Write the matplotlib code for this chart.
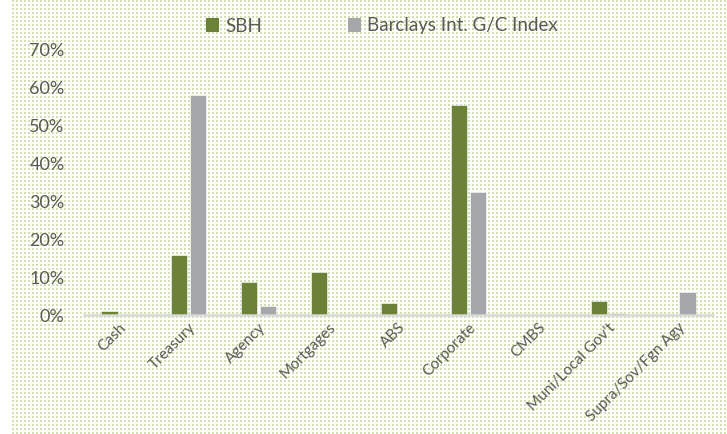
import numpy as np
import matplotlib
matplotlib.use("Agg")
import matplotlib.pyplot as plt
from matplotlib.patches import Patch
from matplotlib.ticker import PercentFormatter

# sector weights, percent
categories = ["Cash", "Treasury", "Agency", "Mortgages", "ABS", "Corporate",
              "CMBS", "Muni/Local Gov't", "Supra/Sov/Fgn Agy"]
sbh = [1.0, 15.8, 8.8, 11.4, 3.1, 55.3, 0.0, 3.8, 0.0]
barclays = [0.0, 57.9, 2.5, 0.0, 0.0, 32.3, 0.0, 0.4, 6.1]
series_names = ["SBH", "Barclays Int. G/C Index"]

GREEN = "#6b8238"
GREY = "#a5a8ab"
TEXT = "#595959"
DOT = "#d0e0b3"

W, H, DPI = 727, 434, 100
plt.rcParams['font.family'] = ['Lato', 'DejaVu Sans']

fig = plt.figure(figsize=(W / DPI, H / DPI), dpi=DPI)
fig.patch.set_facecolor("white")

# dotted excel-style fill behind the whole chart
bg = np.ones((H, W, 4))
dot = np.array(matplotlib.colors.to_rgba(DOT))
yy, xx = np.mgrid[0:H, 0:W]
mask = (xx % 4 < 2) & (yy % 4 < 2) & (xx >= 10)
bg[mask] = dot
fig.figimage(bg, xo=0, yo=0, origin="upper", zorder=-1)

ax = fig.add_axes([84 / W, 1 - 315 / H, (713 - 84) / W, (315 - 49) / H])
ax.patch.set_visible(False)

x = np.arange(len(categories))
bw = 0.23
off = 0.135
ax.bar(x - off, sbh, bw, color=GREEN, edgecolor="white", linewidth=0.4, zorder=2)
ax.bar(x + off, barclays, bw, color=GREY, edgecolor="white", linewidth=0.4, zorder=2)

ax.set_xlim(-0.5, len(categories) - 0.5)
ax.set_ylim(0, 70)
ax.set_yticks(np.arange(0, 71, 10))
ax.yaxis.set_major_formatter(PercentFormatter(decimals=0))
ax.tick_params(axis="y", length=0, pad=14, labelsize=13, labelcolor=TEXT)

ax.set_xticks(x)
ax.set_xticklabels(categories, rotation=45, ha="right", rotation_mode="anchor",
                   fontsize=11, color=TEXT)
ax.tick_params(axis="x", length=0, pad=4)

for s in ["left", "right", "top"]:
    ax.spines[s].set_visible(False)
ax.spines["bottom"].set_color("#d9d9d9")
ax.spines["bottom"].set_linewidth(1.8)
ax.spines["bottom"].set_zorder(3)

handles = [Patch(facecolor=GREEN), Patch(facecolor=GREY)]
fig.legend(handles, series_names, loc="center", bbox_to_anchor=(382 / W, 1 - 26 / H),
           ncol=2, frameon=False, fontsize=13.5, labelcolor=TEXT,
           handlelength=0.7, handleheight=0.7, handletextpad=0.3, columnspacing=4.6)

fig.savefig("out.png", dpi=DPI)
